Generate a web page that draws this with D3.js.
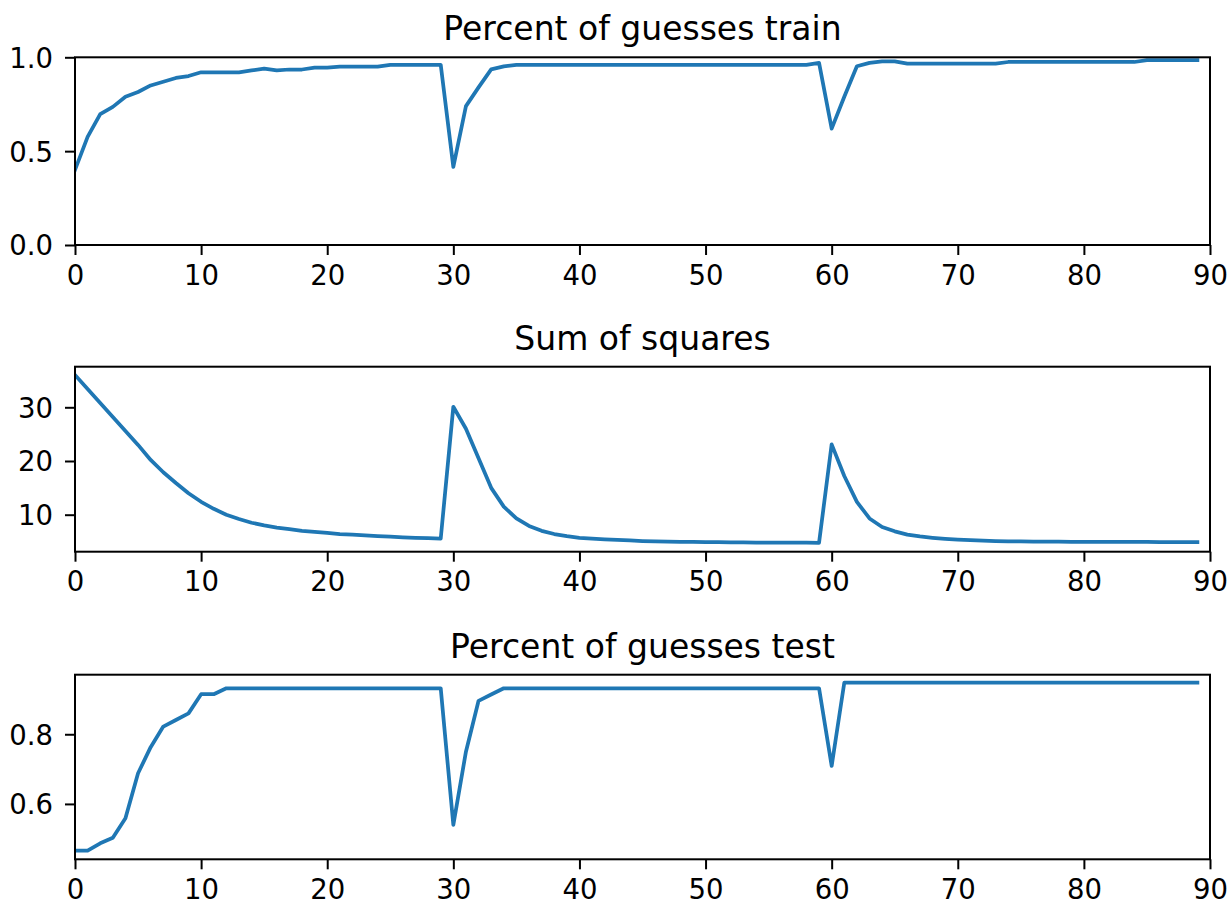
<!DOCTYPE html>
<html>
<head>
<meta charset="utf-8">
<script src="https://cdn.jsdelivr.net/npm/d3@7"></script>
<style>
  html, body { margin: 0; padding: 0; background: #fff; }
  svg { display: block; font-family: "DejaVu Sans", sans-serif; }
  .tick text { fill: #000; }
</style>
</head>
<body>
<svg id="chart" width="1227" height="904"></svg>
<script>
/* Three stacked line panels: train accuracy, loss, test accuracy over 90 epochs */

// epoch index 0..89 is the array position
const trainPct = [
  0.40, 0.576, 0.697, 0.736, 0.79, 0.815, 0.85, 0.87, 0.89, 0.90,
  0.92, 0.92, 0.92, 0.92, 0.93, 0.94, 0.93, 0.935, 0.935, 0.945,
  0.945, 0.95, 0.95, 0.95, 0.95, 0.96, 0.96, 0.96, 0.96, 0.96,
  0.416, 0.74, 0.84, 0.936, 0.952, 0.96, 0.96, 0.96, 0.96, 0.96,
  0.96, 0.96, 0.96, 0.96, 0.96, 0.96, 0.96, 0.96, 0.96, 0.96,
  0.96, 0.96, 0.96, 0.96, 0.96, 0.96, 0.96, 0.96, 0.96, 0.97,
  0.62, 0.79, 0.952, 0.97, 0.978, 0.978, 0.966, 0.966, 0.966, 0.966,
  0.966, 0.966, 0.966, 0.966, 0.975, 0.975, 0.975, 0.975, 0.975, 0.975,
  0.975, 0.975, 0.975, 0.975, 0.975, 0.985, 0.985, 0.985, 0.985, 0.985
];

const sumSquares = [
  36.0, 33.4, 30.8, 28.2, 25.6, 23.0, 20.2, 17.9, 15.9, 14.0,
  12.4, 11.1, 10.0, 9.2, 8.5, 8.0, 7.6, 7.3, 7.0, 6.8,
  6.6, 6.4, 6.3, 6.15, 6.0, 5.9, 5.8, 5.7, 5.65, 5.55,
  30.1, 26.0, 20.5, 15.0, 11.5, 9.3, 7.9, 7.0, 6.4, 6.0,
  5.7, 5.55, 5.4, 5.3, 5.2, 5.1, 5.05, 5.0, 4.95, 4.92,
  4.9, 4.88, 4.86, 4.84, 4.82, 4.81, 4.8, 4.79, 4.78, 4.77,
  23.1, 17.2, 12.4, 9.3, 7.7, 6.9, 6.3, 5.95, 5.7, 5.5,
  5.35, 5.25, 5.15, 5.1, 5.05, 5.02, 5.0, 4.98, 4.97, 4.96,
  4.95, 4.94, 4.93, 4.93, 4.92, 4.92, 4.91, 4.91, 4.9, 4.9
];

const testPct = [
  0.466, 0.466, 0.487, 0.503, 0.559, 0.688, 0.763, 0.822, 0.841, 0.86,
  0.915, 0.915, 0.932, 0.932, 0.932, 0.932, 0.932, 0.932, 0.932, 0.932,
  0.932, 0.932, 0.932, 0.932, 0.932, 0.932, 0.932, 0.932, 0.932, 0.932,
  0.54, 0.75, 0.896, 0.914, 0.932, 0.932, 0.932, 0.932, 0.932, 0.932,
  0.932, 0.932, 0.932, 0.932, 0.932, 0.932, 0.932, 0.932, 0.932, 0.932,
  0.932, 0.932, 0.932, 0.932, 0.932, 0.932, 0.932, 0.932, 0.932, 0.932,
  0.709, 0.948, 0.948, 0.948, 0.948, 0.948, 0.948, 0.948, 0.948, 0.948,
  0.948, 0.948, 0.948, 0.948, 0.948, 0.948, 0.948, 0.948, 0.948, 0.948,
  0.948, 0.948, 0.948, 0.948, 0.948, 0.948, 0.948, 0.948, 0.948, 0.948
];

const titles = ["Percent of guesses train", "Sum of squares", "Percent of guesses test"];
const xTicks = [0, 10, 20, 30, 40, 50, 60, 70, 80, 90];
const yTicksTrain = [0.0, 0.5, 1.0];
const yTicksLoss = [10, 20, 30];
const yTicksTest = [0.6, 0.8];

const panels = [
  { title: titles[0], values: trainPct,   top: 57.3,  height: 187.7, domain: [0, 1],          ticks: yTicksTrain, fmt: d3.format(".1f") },
  { title: titles[1], values: sumSquares, top: 366.7, height: 185.0, domain: [3.11, 37.56],   ticks: yTicksLoss,  fmt: d3.format("d") },
  { title: titles[2], values: testPct,    top: 674.7, height: 184.6, domain: [0.441, 0.971],  ticks: yTicksTest,  fmt: d3.format(".1f") }
];

const left = 75, right = 1210;
const svg = d3.select("#chart");
svg.append("rect").attr("width", 1227).attr("height", 904).attr("fill", "#fff");

const x = d3.scaleLinear().domain([0, 90]).range([0, right - left]);

panels.forEach(p => {
  const y = d3.scaleLinear().domain(p.domain).range([p.height, 0]);
  const g = svg.append("g").attr("transform", `translate(${left},${p.top})`);

  // clip so the line stays inside the frame
  const clipId = "clip" + p.top;
  g.append("clipPath").attr("id", clipId)
    .append("rect").attr("width", right - left).attr("height", p.height);

  g.append("path")
    .datum(p.values)
    .attr("clip-path", `url(#${clipId})`)
    .attr("fill", "none")
    .attr("stroke", "#1f77b4")
    .attr("stroke-width", 3.75)
    .attr("stroke-linejoin", "round")
    .attr("stroke-linecap", "square")
    .attr("d", d3.line().x((d, i) => x(i)).y(d => y(d)));

  const xa = g.append("g").attr("transform", `translate(0,${p.height})`)
    .call(d3.axisBottom(x).tickValues(xTicks).tickFormat(d3.format("d"))
      .tickSize(10).tickSizeOuter(0).tickPadding(10));
  const ya = g.append("g")
    .call(d3.axisLeft(y).tickValues(p.ticks).tickFormat(p.fmt)
      .tickSize(10).tickSizeOuter(0).tickPadding(12));

  [xa, ya].forEach(a => {
    a.select(".domain").remove();
    a.selectAll(".tick line").attr("stroke", "#000").attr("stroke-width", 2);
    a.selectAll(".tick text").attr("font-size", 27.5).attr("font-family", "DejaVu Sans");
  });
  ya.selectAll(".tick text").attr("dy", "0.36em");

  // full frame (all four spines)
  g.append("rect")
    .attr("width", right - left).attr("height", p.height)
    .attr("fill", "none").attr("stroke", "#000").attr("stroke-width", 2);

  g.append("text")
    .attr("x", (right - left) / 2).attr("y", -17)
    .attr("text-anchor", "middle")
    .attr("font-size", 33)
    .attr("fill", "#000")
    .text(p.title);
});
</script>
</body>
</html>
